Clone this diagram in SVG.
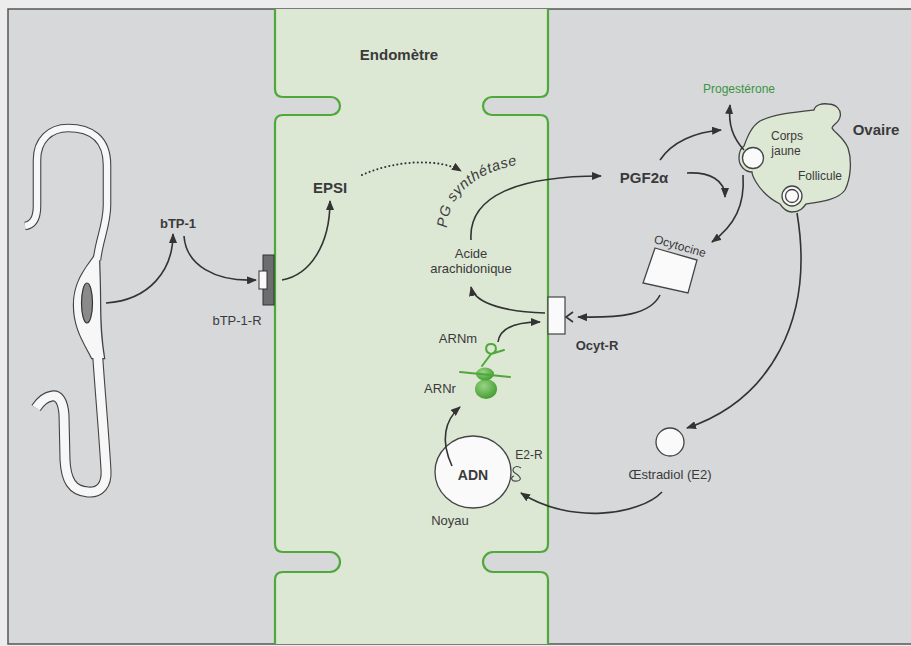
<svg xmlns="http://www.w3.org/2000/svg" width="911" height="646" viewBox="0 0 911 646">
  <style>
    .t { font-family: "Liberation Sans", Arial, sans-serif; fill: #3a3a3a; }
    .b { font-weight: bold; }
    .ln { fill: none; stroke: #333; stroke-width: 1.6; }
    .arr { fill: none; stroke: #333; stroke-width: 1.6; marker-end: url(#ah); }
    .wall { fill: none; stroke: #4ea83a; stroke-width: 2.2; }
    .box { fill: #fafafa; stroke: #444; stroke-width: 1.3; }
    .grn { fill: none; stroke: #4ea83a; stroke-width: 2; stroke-linecap: round; }
    .edge { fill: none; stroke: #444; }
    .core { fill: none; stroke: #f7f7f7; }
  </style>
  <defs>
    <marker id="ah" viewBox="0 0 10 8" refX="9" refY="4" markerWidth="10" markerHeight="8" markerUnits="userSpaceOnUse" orient="auto">
      <path d="M0,0 L10,4 L0,8 z" fill="#333"/>
    </marker>
    <radialGradient id="ribo" cx="0.4" cy="0.35" r="0.7">
      <stop offset="0" stop-color="#9ad486"/>
      <stop offset="1" stop-color="#3f9a2c"/>
    </radialGradient>
    <!-- trophoblast strands, drawn twice (dark edge, then white core) -->
    <path id="upper" d="M25,226 C32,225 37,219 37,206 L37,160 C37,140 50,128 68,128 C90,128 107,138 107,165 L107,205 C107,225 99,240 97,260"/>
    <path id="lower" d="M97,345 C99,380 103,420 106,470 C107,485 100,493 88,492 C72,491 66,480 65,460 L64,415 C63,400 58,395 52,396 C45,397 40,402 36,408"/>
    <path id="body" d="M96,254 C88,266 74,280 74,305 C74,330 86,345 92,358 L104,358 C101,340 100,325 100,300 C100,280 99,266 99,254 Z"/>
  </defs>

  <!-- page and frame -->
  <rect x="0" y="0" width="911" height="646" fill="#ececec"/>
  <rect x="8" y="9" width="910" height="635" fill="#d7d8da"/>
  <path d="M918,9 H8 V644 H918" fill="none" stroke="#555" stroke-width="1.5"/>

  <!-- endometrium cells -->
  <g id="endometre">
    <path fill="#dce7d4" d="M275,9 V89 Q275,97 283,97 H331 A9,9 0 0 1 331,115 H283 Q275,115 275,123 V544 Q275,552 283,552 H330 A10,10 0 0 1 330,572 H283 Q275,572 275,580 V644 H548 V580 Q548,572 540,572 H493 A10,10 0 0 1 493,552 H540 Q548,552 548,544 V123 Q548,115 540,115 H492 A9,9 0 0 1 492,97 H540 Q548,97 548,89 V9 Z"/>
    <path class="wall" d="M275,9 V89 Q275,97 283,97 H331 A9,9 0 0 1 331,115 H283 Q275,115 275,123 V544 Q275,552 283,552 H330 A10,10 0 0 1 330,572 H283 Q275,572 275,580 V644"/>
    <path class="wall" d="M548,9 V89 Q548,97 540,97 H492 A9,9 0 0 0 492,115 H540 Q548,115 548,123 V544 Q548,552 540,552 H493 A10,10 0 0 0 493,572 H540 Q548,572 548,580 V644"/>
    <text class="t b" x="399" y="60" font-size="15" text-anchor="middle">Endomètre</text>
  </g>

  <!-- trophoblast cell -->
  <g id="trophoblaste">
    <use href="#upper" class="edge" stroke-width="8.6"/>
    <use href="#lower" class="edge" stroke-width="11"/>
    <use href="#body" fill="#444" stroke="#444" stroke-width="2.4"/>
    <use href="#upper" class="core" stroke-width="6.4"/>
    <use href="#lower" class="core" stroke-width="8.8"/>
    <use href="#body" fill="#f7f7f7"/>
    <ellipse cx="87" cy="303" rx="5.5" ry="20" fill="#8a8a8a" stroke="#333" stroke-width="1.2"/>
  </g>

  <!-- bTP-1 and its receptor -->
  <g id="btp1">
    <text class="t b" x="178" y="228" font-size="13" text-anchor="middle">bTP-1</text>
  </g>
  <g id="btp1-r">
    <rect x="263" y="255" width="11" height="50" fill="#6d6d6d" stroke="#333" stroke-width="1"/>
    <rect x="259" y="271" width="8" height="18" fill="#fafafa" stroke="#333" stroke-width="1"/>
    <text class="t" x="237" y="325" font-size="13" text-anchor="middle">bTP-1-R</text>
  </g>

  <g id="epsi">
    <text class="t b" x="330" y="193" font-size="15" text-anchor="middle">EPSI</text>
  </g>

  <g id="pg-synthetase">
    <path id="pgarc" d="M447,228 C449,186 490,164 552,160" fill="none"/>
    <text class="t" font-size="14.5" font-style="italic" letter-spacing="0.6"><textPath href="#pgarc">PG synthétase</textPath></text>
  </g>

  <g id="acide">
    <text class="t" x="471" y="258" font-size="13" text-anchor="middle">Acide</text>
    <text class="t" x="471" y="273" font-size="13" text-anchor="middle">arachidonique</text>
  </g>

  <g id="pgf2a">
    <text class="t b" x="644" y="183" font-size="15" text-anchor="middle">PGF2α</text>
  </g>

  <g id="ocyt-r">
    <rect x="548" y="297" width="17" height="37" fill="#fafafa" stroke="#444" stroke-width="1.2"/>
    <path d="M573,312 L566,317 L573,322" class="ln" stroke-width="1.3"/>
    <text class="t b" x="597" y="350" font-size="13" text-anchor="middle">Ocyt-R</text>
  </g>

  <g id="ocytocine">
    <polygon points="655,248 697,260 688,293 643,283" class="box"/>
    <text class="t" x="679" y="250" font-size="12" text-anchor="middle" transform="rotate(16 679 250)">Ocytocine</text>
  </g>

  <g id="ribosome">
    <path d="M482,366 L491,354 C484,352 485,344 491,344 C497,344 498,352 491,354 L504,350" class="grn" stroke-width="1.8"/>
    <ellipse cx="486" cy="389" rx="11" ry="10" fill="url(#ribo)"/>
    <ellipse cx="485" cy="374" rx="9" ry="6.5" fill="url(#ribo)"/>
    <path d="M460,372 L510,377" class="grn" stroke-width="2"/>
    <text class="t" x="458" y="343" font-size="13" text-anchor="middle">ARNm</text>
    <text class="t" x="440" y="393" font-size="13" text-anchor="middle">ARNr</text>
  </g>

  <g id="noyau">
    <ellipse cx="473" cy="472" rx="38" ry="36" class="box"/>
    <text class="t b" x="473" y="480" font-size="14" text-anchor="middle">ADN</text>
    <path d="M521,468 C515,464 510,470 515,473 C520,476 523,480 517,481 C511,482 510,477 514,476" fill="none" stroke="#444" stroke-width="1.1"/>
    <text class="t" x="529" y="459" font-size="12" text-anchor="middle">E2-R</text>
    <text class="t" x="450" y="525" font-size="13" text-anchor="middle">Noyau</text>
  </g>

  <g id="oestradiol">
    <circle cx="670" cy="442" r="14" class="box"/>
    <text class="t" x="670" y="479" font-size="13" text-anchor="middle">Œstradiol (E2)</text>
  </g>

  <g id="ovaire">
    <path d="M744,146 C748,135 752,126 760,121 C775,114 795,112 814,110 C815,105 822,103 828,104 C836,104 842,110 840,117 C839,123 832,125 832,128 C834,132 844,138 848,148 C852,160 851,178 845,190 C838,200 820,202 806,204 C803,208 800,212 792,212 C785,212 782,207 780,204 C772,200 762,192 756,182 C753,177 752,174 752,172 C745,172 739,166 739,158 C739,151 741,148 744,146 Z" fill="#dce7d4" stroke="#444" stroke-width="1.3"/>
    <circle cx="753" cy="158" r="10.5" class="box"/>
    <circle cx="792" cy="196" r="10" class="box"/>
    <circle cx="792" cy="196" r="6.5" class="box"/>
    <text class="t" x="787" y="140" font-size="12" text-anchor="middle">Corps</text>
    <text class="t" x="786" y="155" font-size="12" text-anchor="middle">jaune</text>
    <text class="t" x="820" y="180" font-size="12" text-anchor="middle">Follicule</text>
    <text class="t b" x="876" y="135" font-size="15" text-anchor="middle">Ovaire</text>
    <text x="739" y="93" font-size="12" text-anchor="middle" font-family="Liberation Sans, Arial, sans-serif" fill="#3c9444">Progestérone</text>
  </g>

  <!-- connectors -->
  <g id="connecteurs">
    <path class="arr" d="M106,303 C150,300 173,270 173,234"/>
    <path class="arr" d="M184,236 C186,265 215,282 256,280"/>
    <path class="arr" d="M282,280 C310,275 330,245 330,201"/>
    <path d="M362,175 C395,160 440,158 461,171" fill="none" stroke="#333" stroke-width="2" stroke-linecap="round" stroke-dasharray="0.1 4" marker-end="url(#ah)"/>
    <path class="arr" d="M471,240 C468,195 520,176 601,176"/>
    <path class="arr" d="M545,313 C510,312 475,305 471,287"/>
    <path class="arr" d="M660,160 C672,142 695,132 721,130"/>
    <path class="arr" d="M687,173 C710,172 725,180 725,197"/>
    <path class="arr" d="M744,150 C733,138 728,125 730,105"/>
    <path class="arr" d="M743,175 C745,205 735,225 712,242"/>
    <path class="arr" d="M660,295 C650,315 620,318 578,317"/>
    <path class="arr" d="M498,342 C500,328 515,322 540,322"/>
    <path class="arr" d="M452,466 C440,440 445,420 460,407"/>
    <path class="arr" d="M797,213 C815,320 770,400 687,428"/>
    <path class="arr" d="M662,492 C640,515 570,525 521,493"/>
  </g>
</svg>
